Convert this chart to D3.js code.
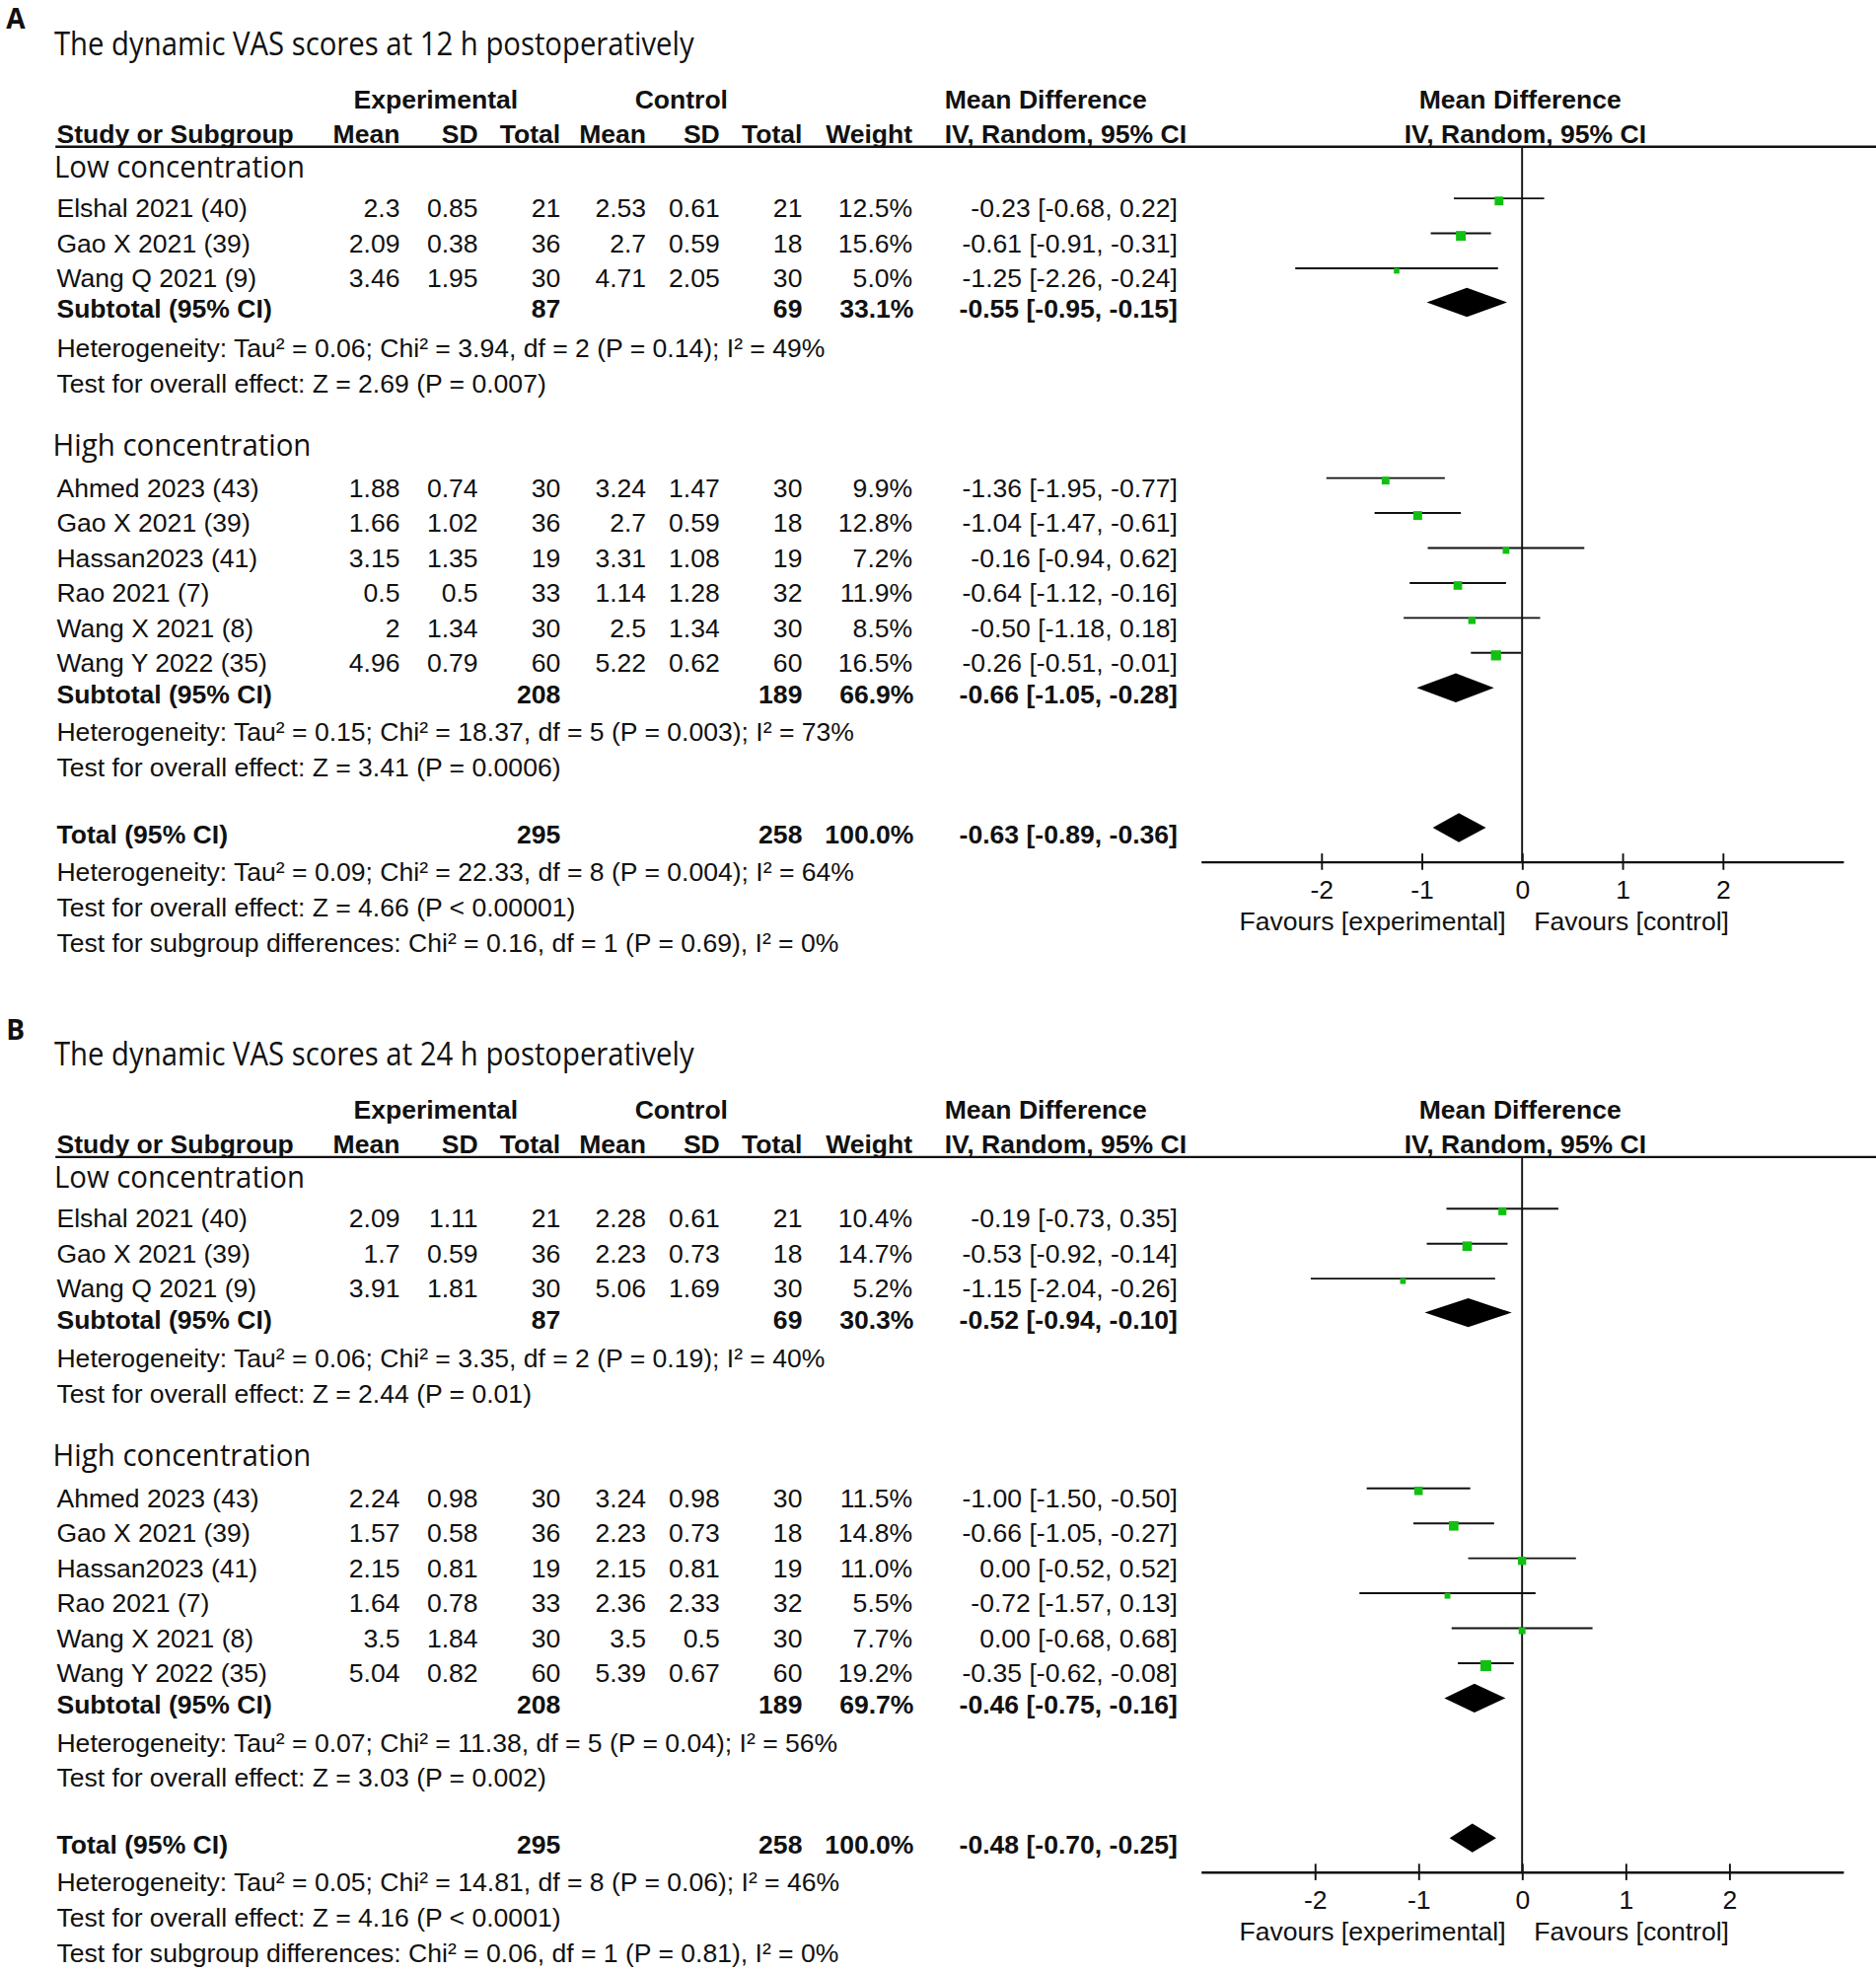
<!DOCTYPE html>
<html>
<head>
<meta charset="utf-8">
<script src="https://cdn.jsdelivr.net/npm/d3@7"></script>
<style>
  body { margin: 0; background: #fff; }
  svg { display: block; }
  text { font-family: "Liberation Sans", Arial, sans-serif; fill: #111; }
  .hum { font-family: "Open Sans", "Noto Sans", sans-serif; }
</style>
</head>
<body>
<svg id="chart"></svg>
<script>
// ---- data ----
// study, exp mean, exp SD, exp N, ctl mean, ctl SD, ctl N, weight %, MD, lower, upper
const lowA = [
  ["Elshal 2021 (40)", 2.3, 0.85, 21, 2.53, 0.61, 21, 12.5, -0.23, -0.68, 0.22],
  ["Gao X 2021 (39)", 2.09, 0.38, 36, 2.7, 0.59, 18, 15.6, -0.61, -0.91, -0.31],
  ["Wang Q 2021 (9)", 3.46, 1.95, 30, 4.71, 2.05, 30, 5.0, -1.25, -2.26, -0.24]
];
const highA = [
  ["Ahmed 2023 (43)", 1.88, 0.74, 30, 3.24, 1.47, 30, 9.9, -1.36, -1.95, -0.77],
  ["Gao X 2021 (39)", 1.66, 1.02, 36, 2.7, 0.59, 18, 12.8, -1.04, -1.47, -0.61],
  ["Hassan2023 (41)", 3.15, 1.35, 19, 3.31, 1.08, 19, 7.2, -0.16, -0.94, 0.62],
  ["Rao 2021 (7)", 0.5, 0.5, 33, 1.14, 1.28, 32, 11.9, -0.64, -1.12, -0.16],
  ["Wang X 2021 (8)", 2, 1.34, 30, 2.5, 1.34, 30, 8.5, -0.50, -1.18, 0.18],
  ["Wang Y 2022 (35)", 4.96, 0.79, 60, 5.22, 0.62, 60, 16.5, -0.26, -0.51, -0.01]
];
// exp N, ctl N, weight, MD, lower, upper
const pooledA = [
  [87, 69, 33.1, -0.55, -0.95, -0.15],
  [208, 189, 66.9, -0.66, -1.05, -0.28],
  [295, 258, 100.0, -0.63, -0.89, -0.36]
];
const statsA = [
  "Heterogeneity: Tau² = 0.06; Chi² = 3.94, df = 2 (P = 0.14); I² = 49%",
  "Test for overall effect: Z = 2.69 (P = 0.007)",
  "Heterogeneity: Tau² = 0.15; Chi² = 18.37, df = 5 (P = 0.003); I² = 73%",
  "Test for overall effect: Z = 3.41 (P = 0.0006)",
  "Heterogeneity: Tau² = 0.09; Chi² = 22.33, df = 8 (P = 0.004); I² = 64%",
  "Test for overall effect: Z = 4.66 (P < 0.00001)",
  "Test for subgroup differences: Chi² = 0.16, df = 1 (P = 0.69), I² = 0%"
];

const lowB = [
  ["Elshal 2021 (40)", 2.09, 1.11, 21, 2.28, 0.61, 21, 10.4, -0.19, -0.73, 0.35],
  ["Gao X 2021 (39)", 1.7, 0.59, 36, 2.23, 0.73, 18, 14.7, -0.53, -0.92, -0.14],
  ["Wang Q 2021 (9)", 3.91, 1.81, 30, 5.06, 1.69, 30, 5.2, -1.15, -2.04, -0.26]
];
const highB = [
  ["Ahmed 2023 (43)", 2.24, 0.98, 30, 3.24, 0.98, 30, 11.5, -1.00, -1.50, -0.50],
  ["Gao X 2021 (39)", 1.57, 0.58, 36, 2.23, 0.73, 18, 14.8, -0.66, -1.05, -0.27],
  ["Hassan2023 (41)", 2.15, 0.81, 19, 2.15, 0.81, 19, 11.0, 0.00, -0.52, 0.52],
  ["Rao 2021 (7)", 1.64, 0.78, 33, 2.36, 2.33, 32, 5.5, -0.72, -1.57, 0.13],
  ["Wang X 2021 (8)", 3.5, 1.84, 30, 3.5, 0.5, 30, 7.7, 0.00, -0.68, 0.68],
  ["Wang Y 2022 (35)", 5.04, 0.82, 60, 5.39, 0.67, 60, 19.2, -0.35, -0.62, -0.08]
];
const pooledB = [
  [87, 69, 30.3, -0.52, -0.94, -0.10],
  [208, 189, 69.7, -0.46, -0.75, -0.16],
  [295, 258, 100.0, -0.48, -0.70, -0.25]
];
const statsB = [
  "Heterogeneity: Tau² = 0.06; Chi² = 3.35, df = 2 (P = 0.19); I² = 40%",
  "Test for overall effect: Z = 2.44 (P = 0.01)",
  "Heterogeneity: Tau² = 0.07; Chi² = 11.38, df = 5 (P = 0.04); I² = 56%",
  "Test for overall effect: Z = 3.03 (P = 0.002)",
  "Heterogeneity: Tau² = 0.05; Chi² = 14.81, df = 8 (P = 0.06); I² = 46%",
  "Test for overall effect: Z = 4.16 (P < 0.0001)",
  "Test for subgroup differences: Chi² = 0.06, df = 1 (P = 0.81), I² = 0%"
];

const headerCols = ["Mean", "SD", "Total", "Mean", "SD", "Total", "Weight"];
const tickVals = [-2, -1, 0, 1, 2];

// ---- layout (drawn in a 1489.5 x 1565.4 box, scaled to the window) ----
const W = 1489.5, H = 1565.4;
const colX = [317.5, 379.5, 445, 513, 571.5, 637, 724.5];
const ciX = 935;
const rowStep = 27.75;
const fs = 20.8;

const loc = d3.formatLocale({decimal: ".", thousands: ",", grouping: [3], currency: ["", ""], minus: "-"});
const f2 = loc.format(".2f");
const f1 = loc.format(".1f");
const ciText = d => `${f2(d[0])} [${f2(d[1])}, ${f2(d[2])}]`;

const svg = d3.select("#chart")
  .attr("width", 1902)
  .attr("height", 1999)
  .attr("viewBox", `0 0 ${W} ${H}`)
  .attr("preserveAspectRatio", "none");

function txt(g, x, y, s, opt = {}) {
  const t = g.append("text")
    .attr("x", x).attr("y", y)
    .attr("text-anchor", opt.anchor || "start")
    .attr("font-size", opt.size || fs)
    .attr("font-weight", opt.bold ? "bold" : null)
    .text(s);
  if (opt.cls) t.attr("class", opt.cls);
  if (opt.len) t.attr("textLength", opt.len).attr("lengthAdjust", "spacingAndGlyphs");
  return t;
}

function drawPanel(offY, letter, title, low, high, pooled, stats, x) {
  const g = svg.append("g").attr("transform", `translate(0,${offY})`);

  txt(g, 5, 23, letter, {bold: true, size: 22, cls: "hum"});
  txt(g, 43, 44, title, {size: 25, cls: "hum", len: 508});

  // column headers
  txt(g, 346, 86, "Experimental", {anchor: "middle", bold: true});
  txt(g, 541, 86, "Control", {anchor: "middle", bold: true});
  txt(g, 750, 86, "Mean Difference", {bold: true});
  txt(g, 1207, 86, "Mean Difference", {anchor: "middle", bold: true});
  txt(g, 45, 113.5, "Study or Subgroup", {bold: true});
  headerCols.forEach((h, i) => txt(g, colX[i], 113.5, h, {anchor: "end", bold: true}));
  txt(g, 750, 113.5, "IV, Random, 95% CI", {bold: true});
  txt(g, 1211, 113.5, "IV, Random, 95% CI", {anchor: "middle", bold: true});

  g.append("line")
    .attr("x1", 44).attr("x2", W).attr("y1", 116.5).attr("y2", 116.5)
    .attr("stroke", "#111").attr("stroke-width", 1.8);

  // zero line and axis
  const axisY = 684;
  g.append("line")
    .attr("x1", x(0)).attr("x2", x(0)).attr("y1", 116.5).attr("y2", axisY)
    .attr("stroke", "#111").attr("stroke-width", 1.5);

  const ax = g.append("g")
    .attr("transform", `translate(0,${axisY})`)
    .call(d3.axisBottom(x).tickValues(tickVals).tickSize(6.5).tickSizeOuter(0).tickFormat(d => String(d)));
  ax.select(".domain").attr("stroke", "#111").attr("stroke-width", 1.8);
  ax.selectAll(".tick line").attr("y1", -6.5).attr("y2", 6.5).attr("stroke", "#111").attr("stroke-width", 1.5);
  ax.selectAll(".tick text")
    .attr("y", 29.5).attr("dy", null)
    .attr("font-size", fs)
    .attr("font-family", '"Liberation Sans", Arial, sans-serif')
    .attr("fill", "#111");
  txt(g, x(0) - 13, 738.5, "Favours [experimental]", {anchor: "end"});
  txt(g, x(0) + 9.5, 738.5, "Favours [control]");

  const sq = d3.scaleSqrt().domain([0, 20]).range([0, 8.8]);

  function studies(rows, y0) {
    rows.forEach((r, i) => {
      const y = y0 + i * rowStep;
      txt(g, 45, y, r[0]);
      for (let c = 0; c < 6; c++) txt(g, colX[c], y, String(r[c + 1]), {anchor: "end"});
      txt(g, colX[6], y, f1(r[7]) + "%", {anchor: "end"});
      txt(g, ciX, y, ciText(r.slice(8)), {anchor: "end"});
      g.append("line")
        .attr("x1", x(r[9])).attr("x2", x(r[10]))
        .attr("y1", y - 15).attr("y2", y - 15)
        .attr("stroke", "#111").attr("stroke-width", 1.5);
      const s = sq(r[7]);
      g.append("rect")
        .attr("x", x(r[8]) - s / 2).attr("y", y - 13 - s / 2)
        .attr("width", s).attr("height", s)
        .attr("fill", "#11c011");
    });
  }

  function pooledRow(p, y, label) {
    txt(g, 45, y, label, {bold: true});
    txt(g, colX[2], y, String(p[0]), {anchor: "end", bold: true});
    txt(g, colX[5], y, String(p[1]), {anchor: "end", bold: true});
    txt(g, colX[6] + 1, y, f1(p[2]) + "%", {anchor: "end", bold: true});
    txt(g, ciX, y, ciText(p.slice(3)), {anchor: "end", bold: true});
    const cy = y - 12.5, hh = 11.5;
    g.append("path")
      .attr("d", `M${x(p[4])},${cy} L${x(p[3])},${cy - hh} L${x(p[5])},${cy} L${x(p[3])},${cy + hh} Z`)
      .attr("fill", "#000");
  }

  txt(g, 43, 141, "Low concentration", {size: 24, cls: "hum", len: 199});
  studies(low, 172.5);
  pooledRow(pooled[0], 252.5, "Subtotal (95% CI)");
  txt(g, 45, 283.5, stats[0]);
  txt(g, 45, 311.5, stats[1]);

  txt(g, 42, 362, "High concentration", {size: 24, cls: "hum", len: 205});
  studies(high, 394.5);
  pooledRow(pooled[1], 558.5, "Subtotal (95% CI)");
  txt(g, 45, 588.5, stats[2]);
  txt(g, 45, 616.5, stats[3]);

  pooledRow(pooled[2], 669.5, "Total (95% CI)");
  txt(g, 45, 699.5, stats[4]);
  txt(g, 45, 727.5, stats[5]);
  txt(g, 45, 755.5, stats[6]);
}

const xA = d3.scaleLinear().domain([-3.2, 3.2]).range([953.5, 1463.5]);
const xB = d3.scaleLinear().domain([-3.1, 3.1]).range([953.5, 1463.5]);

drawPanel(0, "A", "The dynamic VAS scores at 12 h postoperatively", lowA, highA, pooledA, statsA, xA);
drawPanel(802, "B", "The dynamic VAS scores at 24 h postoperatively", lowB, highB, pooledB, statsB, xB);
</script>
</body>
</html>
